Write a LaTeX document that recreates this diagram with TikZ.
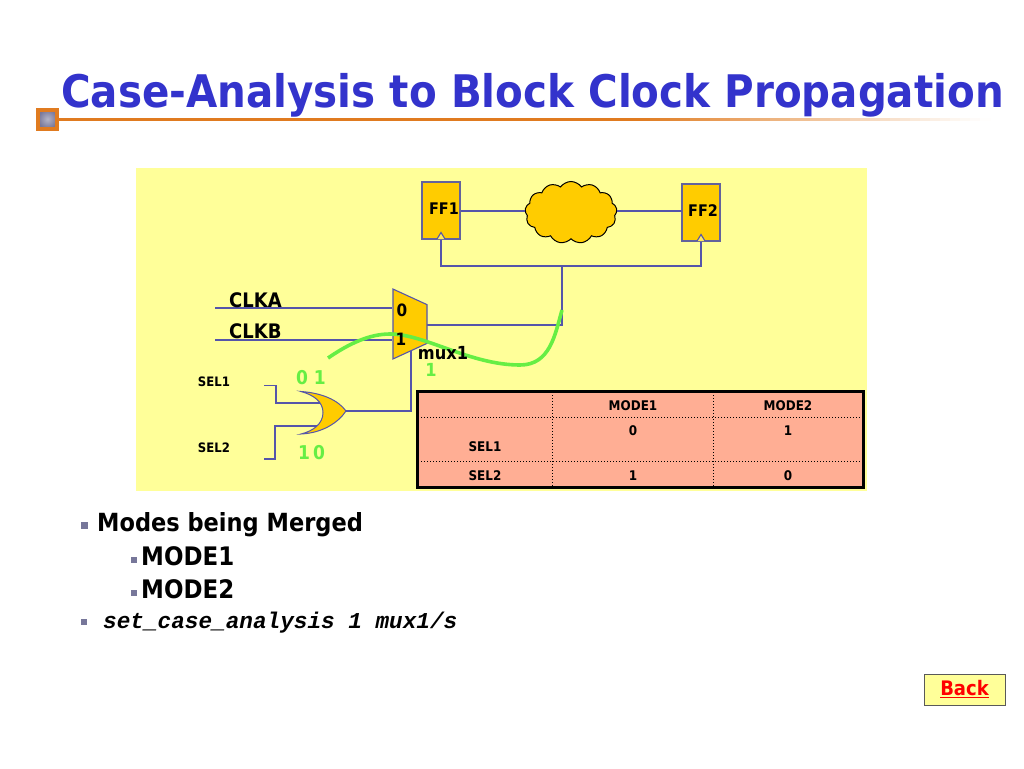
\documentclass[tikz,border=0pt]{standalone}
\usepackage{fontspec}
\usetikzlibrary{shapes.geometric,shapes.symbols}
\setmainfont{DejaVu Sans}
\newfontfamily\tah[FakeStretch=0.9]{DejaVu Sans Bold}
\newfontfamily\cour{Liberation Mono Bold Italic}
\definecolor{panel}{HTML}{FFFF99}
\definecolor{gold}{HTML}{FFCC00}
\definecolor{wire}{HTML}{5555AA}
\definecolor{grn}{HTML}{66EE44}
\definecolor{salmon}{HTML}{FFAE94}
\definecolor{titleblue}{HTML}{3333CC}
\definecolor{rust}{HTML}{E07B20}
\definecolor{bul}{HTML}{77779A}
\tikzset{
  wirep/.style={draw=wire,line width=1.1pt},
  ffbox/.style={rectangle,draw=wire!70!gray,fill=gold,line width=1.1pt,minimum width=38pt,minimum height=57pt,inner sep=0},
  lab/.style={inner sep=0,font=\tah\fontsize{#1}{#1}\selectfont,text=black},
  glab/.style={inner sep=0,font=\tah\fontsize{#1}{#1}\selectfont,text=grn},
  bulletp/.style={fill=bul,draw=none,minimum size=#1,inner sep=0,rectangle},
  dotl/.style={line width=1pt,dotted,black}
}
\begin{document}
\begin{tikzpicture}[x=1pt,y=-1pt]
\useasboundingbox (0,0) rectangle (1024,768);
\fill[white] (0,0) rectangle (1024,768);
% title rule
\fill[rust] (55,117.5) rectangle (640,121);
\foreach \i in {0,...,34} {
  \pgfmathsetmacro{\xa}{640+\i*10}
  \pgfmathsetmacro{\xb}{\xa+10.5}
  \pgfmathsetmacro{\pc}{100*(1-(\i+0.5)/35)^1.15}
  \fill[rust!\pc!white] (\xa,117.5) rectangle (\xb,121);
}
\node[rectangle,draw=rust,line width=4pt,inner color=bul!55,outer color=bul,minimum size=19pt,inner sep=0] (sq) at (47.5,119) {};
\node[lab=44.9,text=titleblue,anchor=base west] (title) at (61,107) {Case-Analysis to Block Clock Propagation};
% panel
\fill[panel] (136,168) rectangle (867,491);
% wires
\node[ffbox] (ff1) at (441,210.5) {};
\node[ffbox] (ff2) at (701,212.5) {};
\node[cloud,cloud puffs=13,cloud puff arc=110,aspect=1.5,draw=black,fill=gold,line width=1pt,minimum width=92pt,minimum height=62pt,inner sep=1pt] (cloud) at (571,212.5) {};
\coordinate (bus) at (562,266);
\coordinate (fo1) at (461,211);
\coordinate (fi2) at (682,211);
\coordinate (muxout) at (427,325);
\draw[wirep] (fo1) -- (fo1 -| cloud.west);
\draw[wirep] (fi2 -| cloud.east) -- (fi2);
\draw[wirep] (ff1.south) |- (bus) -| (ff2.south);
\draw[wire,line width=1.1pt,fill=panel!60!gold] (437,239) -- (441,232.5) -- (445,239);
\draw[wire,line width=1.1pt,fill=panel!60!gold] (697,241) -- (701,234.5) -- (705,241);
\coordinate (clka) at (215,308);
\coordinate (clkb) at (215,340);
\coordinate (orout) at (346,411);
\coordinate (s1) at (264,385.5);
\coordinate (s2) at (264,459);
\draw[wirep] (orout) -| (411,330);
\draw[wirep] (bus) |- (muxout);
\node[trapezium,trapezium stretches=true,trapezium angle=66.9,rotate=-90,draw=wire,fill=gold,line width=1.1pt,minimum width=70pt,minimum height=34pt,inner sep=1pt] (mux) at (410,324) {\phantom{x}};
\draw[wirep] (clka) -- (clka -| mux.south);
\draw[wirep] (clkb) -- (clkb -| mux.south);
\draw[wirep] (s1) -| (276,403) -- (320,403);
\draw[wirep] (s2) -| (275,426) -- (318,426);
% OR gate
\draw[wire,line width=1pt,fill=gold] (301,391.5) .. controls (322,393) and (338,400) .. (orout) .. controls (338,423) and (322,433) .. (301,434) .. controls (313,431) and (323,424) .. (323,412.5) .. controls (323,402) and (314,395) .. (301,391.5) -- cycle;
% green trace
\draw[grn,line width=3.6pt] (328,358) .. controls (350,343) and (370,334) .. (390,334) .. controls (425,334) and (470,365) .. (520,365) .. controls (550,365) and (555,335) .. (562,310);
% labels
\node[lab=16] (tff1) at (444,209) {FF1};
\node[lab=16] (tff2) at (703,211) {FF2};
\node[lab=20,anchor=base west] (tclka) at (229,307) {CLKA};
\node[lab=20,anchor=base west] (tclkb) at (229,338) {CLKB};
\node[lab=17] (t0) at (402,310) {0};
\node[lab=17] (t1) at (401,339) {1};
\node[glab=18] (g1) at (431,369.5) {1};
\node[lab=18] (tmux) at (443,353) {mux1};
\node[lab=13] (ts1) at (214,382) {SEL1};
\node[lab=13] (ts2) at (214,448) {SEL2};
\node[glab=19] (g01) at (311,378) {0 1};
\node[glab=19] (g10) at (311.5,453) {1\,0};
% table
\node[rectangle,fill=salmon,minimum width=445pt,minimum height=95pt,inner sep=0] (tbl) at (640.5,439.5) {};
\draw[dotl] (418,417) -- (863,417);
\draw[dotl] (418,461.5) -- (863,461.5);
\draw[dotl] (552,392) -- (552,487);
\draw[dotl] (713,392) -- (713,487);
\draw[black,line width=3pt] (tbl.north west) rectangle (tbl.south east);
\node[lab=13.3] (m1) at (633,405.5) {MODE1};
\node[lab=13.3] (m2) at (788,405.5) {MODE2};
\node[lab=13.3] (c1) at (633,431) {0};
\node[lab=13.3] (c2) at (788,431) {1};
\node[lab=13.3] (r1) at (485,446.5) {SEL1};
\node[lab=13.3] (r2) at (485,476) {SEL2};
\node[lab=13.3] (c3) at (633,476) {1};
\node[lab=13.3] (c4) at (788,476) {0};
% bullets
\node[bulletp=7pt] (b1) at (84,525) {};
\node[lab=25,anchor=base west] (l1) at (97,531) {Modes being Merged};
\node[bulletp=6pt] (b2) at (134,560) {};
\node[lab=25.5,anchor=base west] (l2) at (141,565.5) {MODE1};
\node[bulletp=6pt] (b3) at (134,593) {};
\node[lab=25.5,anchor=base west] (l3) at (141,598.5) {MODE2};
\node[bulletp=6pt] (b4) at (84,622) {};
\node[inner sep=0,anchor=base west,font=\cour\fontsize{22.7}{22.7}\selectfont] (l4) at (103,628) {set\_case\_analysis 1 mux1/s};
% back button
\node[rectangle,draw=black!65,fill=panel,line width=1pt,minimum width=81pt,minimum height=31pt,inner sep=0,text=red,font=\tah\fontsize{20}{20}\selectfont] (back) at (964.5,689.5) {\underline{Back}};
\end{tikzpicture}
\end{document}
